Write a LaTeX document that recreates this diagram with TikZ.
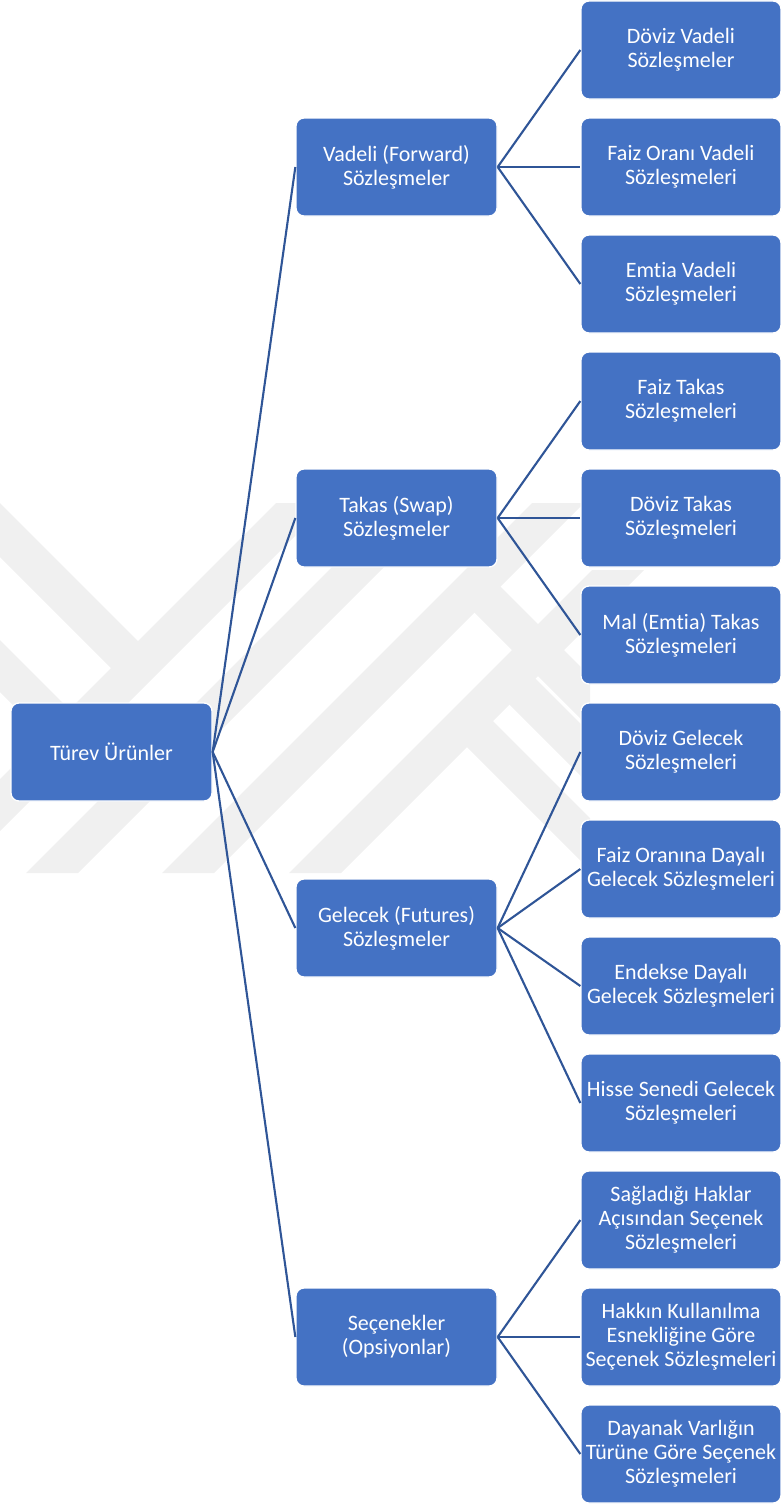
\documentclass[tikz,border=0pt]{standalone}
\usepackage{fontspec}
\setmainfont[Ligatures=NoCommon]{Carlito}
\definecolor{boxblue}{HTML}{4472C4}
\definecolor{linkblue}{HTML}{2F5597}
\definecolor{wmgray}{HTML}{F0F0F0}
\begin{document}
\begin{tikzpicture}[x=1pt,y=-1pt,
  box/.style={rectangle, rounded corners=8pt, fill=boxblue, draw=white,
    line width=1.3pt, text=white, minimum width=201pt, minimum height=98pt,
    inner sep=2pt, align=center, font=\fontsize{22}{24}\selectfont},
  leaf/.style={box, minimum width=200pt},
  link/.style={draw=linkblue, line width=2.1pt},
  wm/.style={fill=wmgray, draw=none}]
\useasboundingbox (0,0) rectangle (781,1504);
\clip (0,0) rectangle (781,1504);

% faint background emblem: diagonal bands
\fill[wm] (276,503) -- (328,503) -- (-29,860) -- (-81,860) -- cycle;
\fill[wm] (396,503) -- (448,503) -- (78,873) -- (26,873) -- cycle;
\fill[wm] (532,503) -- (584,503) -- (214,873) -- (162,873) -- cycle;
\fill[wm] (592,570) -- (644,570) -- (341,873) -- (289,873) -- cycle;
\fill[wm] (-5,498) -- (151,654) -- (124,681) -- (-5,552) -- cycle;
\fill[wm] (-5,635) -- (82,722) -- (56,748) -- (-5,687) -- cycle;
\fill[wm] (487,573) -- (590,676) -- (590,728) -- (461,599) -- cycle;
\fill[wm] (522,665) -- (590,733) -- (590,785) -- (496,691) -- cycle;
\fill[wm] (480,708) -- (590,818) -- (590,870) -- (454,734) -- cycle;

% root
\node[box] (root) at (111.5,752) {Türev Ürünler};

% first level
\node[box] (fwd) at (396.5,167) {Vadeli (Forward)\\Sözleşmeler};
\node[box] (swp) at (396.5,518) {Takas (Swap)\\Sözleşmeler};
\node[box] (fut) at (396.5,928) {Gelecek (Futures)\\Sözleşmeler};
\node[box] (opt) at (396.5,1337) {Seçenekler\\(Opsiyonlar)};

% second level
\node[leaf] (f1) at (681,50)   {Döviz Vadeli\\Sözleşmeler};
\node[leaf] (f2) at (681,167)  {Faiz Oranı Vadeli\\Sözleşmeleri};
\node[leaf] (f3) at (681,284)  {Emtia Vadeli\\Sözleşmeleri};
\node[leaf] (s1) at (681,401)  {Faiz Takas\\Sözleşmeleri};
\node[leaf] (s2) at (681,518)  {Döviz Takas\\Sözleşmeleri};
\node[leaf] (s3) at (681,635)  {Mal (Emtia) Takas\\Sözleşmeleri};
\node[leaf] (g1) at (681,752)  {Döviz Gelecek\\Sözleşmeleri};
\node[leaf] (g2) at (681,869)  {Faiz Oranına Dayalı\\Gelecek Sözleşmeleri};
\node[leaf] (g3) at (681,986)  {Endekse Dayalı\\Gelecek Sözleşmeleri};
\node[leaf] (g4) at (681,1103) {Hisse Senedi Gelecek\\Sözleşmeleri};
\node[leaf] (o1) at (681,1220) {Sağladığı Haklar\\Açısından Seçenek\\Sözleşmeleri};
\node[leaf] (o2) at (681,1337) {Hakkın Kullanılma\\Esnekliğine Göre\\Seçenek Sözleşmeleri};
\node[leaf] (o3) at (681,1454) {Dayanak Varlığın\\Türüne Göre Seçenek\\Sözleşmeleri};

% connectors
\foreach \c in {fwd,swp,fut,opt} \draw[link] (root.east) -- (\c.west);
\foreach \c in {f1,f2,f3} \draw[link] (fwd.east) -- (\c.west);
\foreach \c in {s1,s2,s3} \draw[link] (swp.east) -- (\c.west);
\foreach \c in {g1,g2,g3,g4} \draw[link] (fut.east) -- (\c.west);
\foreach \c in {o1,o2,o3} \draw[link] (opt.east) -- (\c.west);
\end{tikzpicture}
\end{document}
